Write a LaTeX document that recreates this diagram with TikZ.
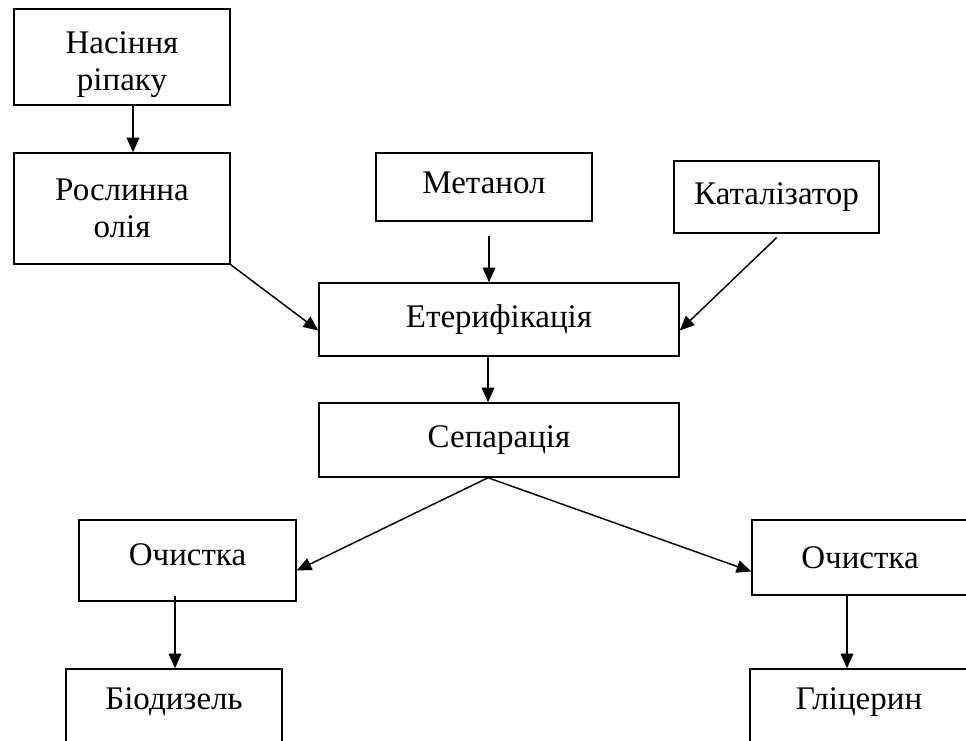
\documentclass[tikz,border=0pt]{standalone}
\usepackage{fontspec}
\setmainfont{Liberation Serif}
\usetikzlibrary{arrows.meta,positioning,calc}
\newlength\pxu
\setlength\pxu{0.75pt}

\begin{document}
\begin{tikzpicture}[
  x=0.75pt, y=-0.75pt,
  blk/.style={draw, line width=1.1pt, inner sep=0pt, align=center,
              font=\fontsize{24.75}{28}\selectfont},
  arr/.style={-{Triangle[length=11pt,width=9.5pt]}, line width=1.1pt},
]
\useasboundingbox (0,0) rectangle (966,740);
\clip (0,0) rectangle (966,740);

% Raw materials
\node[blk, minimum width=216\pxu, minimum height=96\pxu] (seed) at (122,57)
  {\raisebox{-16\pxu}[0pt][0pt]{\begin{tabular}{@{}c@{}}Насіння\\ріпаку\end{tabular}}};
\node[blk, minimum width=216\pxu, minimum height=111\pxu] (oil) at (122,208.5) {Рослинна\\олія};
\node[blk, minimum width=216\pxu, minimum height=68\pxu, text depth=8\pxu] (meth) at (484,187) {Метанол};
\node[blk, minimum width=205\pxu, minimum height=72\pxu] (cat) at (776.5,197) {Каталізатор};

% Process
\node[blk, minimum width=360\pxu, minimum height=73\pxu] (ester) at (499,319.5) {Етерифікація};
\node[blk, minimum width=360\pxu, minimum height=74\pxu] (sep) at (499,440) {Сепарація};

% Products
\node[blk, minimum width=217\pxu, minimum height=81\pxu, text depth=12\pxu] (cleanL) at (187.5,560.5) {Очистка};
\node[blk, minimum width=216\pxu, minimum height=75\pxu] (cleanR) at (860,557.5) {Очистка};
\node[blk, minimum width=216\pxu, minimum height=74\pxu, text depth=15\pxu] (bio) at (174,706) {Біодизель};
\node[blk, minimum width=218\pxu, minimum height=74\pxu, text depth=15\pxu] (gly) at (859,706) {Гліцерин};

% Flows
\draw[arr] ([shift={(11,0)}]seed.south) -- ([shift={(11,0)}]oil.north);
\draw[arr] ([shift={(5,14)}]meth.south) -- ([shift={(-10,0)}]ester.north);
\draw[arr] ([shift={(0,4)}]cat.south) -- ([shift={(0,11)}]ester.east);
\draw[arr] (oil.south east) -- ([shift={(0,11)}]ester.west);
\draw[arr] ([shift={(-11,0)}]ester.south) -- ([shift={(-11,0)}]sep.north);
\draw[arr] ([shift={(-11,0)}]sep.south) -- ([shift={(0,10)}]cleanL.east);
\draw[arr] ([shift={(-11,0)}]sep.south) -- ([shift={(0,14)}]cleanR.west);
\draw[arr] ([shift={(-12.5,-6)}]cleanL.south) -- ([shift={(1,0)}]bio.north);
\draw[arr] ([shift={(-13,0)}]cleanR.south) -- ([shift={(-12,0)}]gly.north);
\end{tikzpicture}
\end{document}
